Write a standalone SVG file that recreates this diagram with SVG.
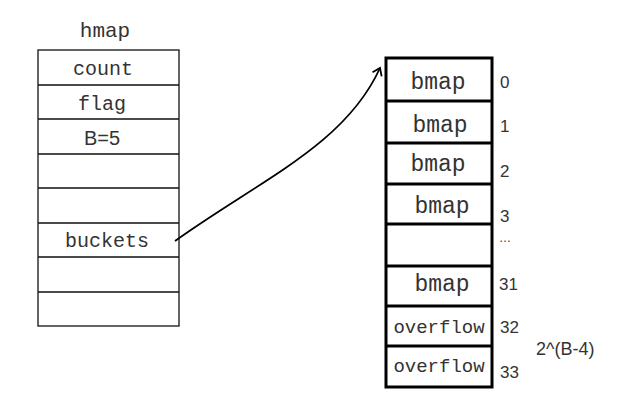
<svg xmlns="http://www.w3.org/2000/svg" width="620" height="405" viewBox="0 0 620 405">
<defs>
<style>
.mono{font-family:"Liberation Mono","Courier New",monospace;fill:#333;text-anchor:middle}
.sans{font-family:"Liberation Sans",Arial,sans-serif;fill:#333}
.thin{fill:none;stroke:#111;stroke-width:1.3}
.thick{fill:none;stroke:#000;stroke-width:3}
.conn{fill:none;stroke:#000;stroke-width:1.8}
</style>
<marker id="arr" viewBox="0 0 12 12" refX="10" refY="6" markerWidth="12" markerHeight="12" markerUnits="userSpaceOnUse" orient="auto">
<path d="M3,1 L10,6 L3,11" fill="none" stroke="#000" stroke-width="1.8"/>
</marker>
</defs>
<rect width="620" height="405" fill="#fff"/>
<g id="hmap">
<text class="mono" x="105" y="37" font-size="21">hmap</text>
<rect class="thin" x="38" y="50" width="141" height="276"/>
<path class="thin" d="M38,85H179M38,119H179M38,154H179M38,188H179M38,223H179M38,257H179M38,292H179"/>
<text class="mono" x="103" y="75" font-size="20">count</text>
<text class="mono" x="102" y="110" font-size="20">flag</text>
<text class="sans" x="102" y="145" font-size="20" text-anchor="middle">B=5</text>
<text class="mono" x="107" y="247" font-size="20">buckets</text>
</g>
<g id="buckets">
<rect class="thick" x="386" y="58" width="106" height="329"/>
<path class="thick" d="M386,101H492M386,143H492M386,184H492M386,224H492M386,266H492M386,306H492M386,346H492"/>
<text class="mono" x="438" y="89" font-size="23">bmap</text>
<text class="mono" x="440" y="132" font-size="23">bmap</text>
<text class="mono" x="438" y="171" font-size="23">bmap</text>
<text class="mono" x="442" y="213" font-size="23">bmap</text>
<text class="mono" x="442" y="291" font-size="23">bmap</text>
<text class="mono" x="439" y="333" font-size="19">overflow</text>
<text class="mono" x="439" y="372" font-size="19">overflow</text>
</g>
<g id="indices" class="sans" font-size="17">
<text x="500" y="88">0</text>
<text x="500" y="132">1</text>
<text x="500" y="177">2</text>
<text x="500" y="222">3</text>
<text x="499" y="242" font-size="12">…</text>
<text x="499" y="290">31</text>
<text x="500" y="333">32</text>
<text x="500" y="378">33</text>
<text x="536" y="355" font-size="18">2^(B-4)</text>
</g>
<g id="connectors">
<path class="conn" d="M175,241 C260,180 345,145 380,68" marker-end="url(#arr)"/>
</g>
</svg>
